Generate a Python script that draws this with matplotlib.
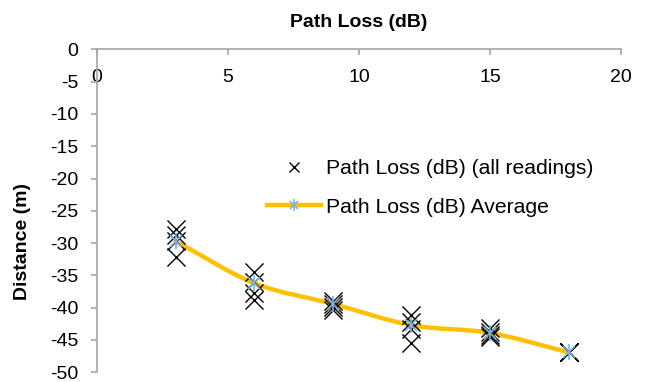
import matplotlib
matplotlib.use("Agg")
import matplotlib.pyplot as plt
from matplotlib.path import Path
from matplotlib.patches import PathPatch
from matplotlib.lines import Line2D
import numpy as np

plt.rcParams['font.family'] = ['Liberation Sans', 'DejaVu Sans']

# Measurement positions and readings
positions = [3, 6, 9, 12, 15, 18]
readings = [
    [-27.8, -28.7, -29.6, -32.1],
    [-34.4, -36.0, -37.8, -38.8],
    [-38.9, -39.4, -39.9, -40.3],
    [-41.2, -42.2, -43.3, -45.4],
    [-43.1, -43.7, -44.2, -44.6],
    [-46.9, -46.9, -46.9, -46.9],
]
average = [-29.7, -36.2, -39.4, -42.7, -43.9, -46.9]

x_ticks = [0, 5, 10, 15, 20]
y_ticks = [0, -5, -10, -15, -20, -25, -30, -35, -40, -45, -50]

gray = '#a6a6a6'
yellow = '#ffc000'
blue = '#7eb2e0'

W, H = 646, 382
fig = plt.figure(figsize=(W / 100, H / 100), dpi=100)
x0, x1, y0, y1 = 97, 621, 49.3, 372.3
ax = fig.add_axes([x0 / W, 1 - y1 / H, (x1 - x0) / W, (y1 - y0) / H])
ax.set_xlim(0, 20)
ax.set_ylim(-50, 0)

# all readings
xs = [p for p, r in zip(positions, readings) for _ in r]
ys = [v for r in readings for v in r]
ax.scatter(xs, ys, marker='x', s=13 ** 2, color='black', linewidths=1.0, zorder=3)

# smoothed average line (Catmull-Rom style Bezier segments)
pts = np.column_stack([positions, average]).astype(float)
n = len(pts)
tangents = []
for i in range(n):
    if i == 0:
        t = pts[1] - pts[0]
    elif i == n - 1:
        t = pts[-1] - pts[-2]
    else:
        t = (pts[i + 1] - pts[i - 1]) / 2
    tangents.append(t)
verts = [tuple(pts[0])]
codes = [Path.MOVETO]
for i in range(n - 1):
    c1 = pts[i] + tangents[i] / 3
    c2 = pts[i + 1] - tangents[i + 1] / 3
    verts += [tuple(c1), tuple(c2), tuple(pts[i + 1])]
    codes += [Path.CURVE4] * 3
ax.add_patch(PathPatch(Path(verts, codes), fill=False, edgecolor=yellow,
                       linewidth=3.2, capstyle='round', joinstyle='round', zorder=2))
ax.plot(positions, average, linestyle='none', marker='x', markersize=9,
        markeredgecolor=blue, markeredgewidth=1.2, zorder=4)
ax.plot(positions, average, linestyle='none', marker='|', markersize=12,
        markeredgecolor=blue, markeredgewidth=1.2, zorder=4)

# axes styling: x axis crosses at y = 0 (top)
for s in ['right', 'top']:
    ax.spines[s].set_visible(False)
ax.spines['bottom'].set_position(('data', 0))
for s in ['bottom', 'left']:
    ax.spines[s].set_color(gray)
    ax.spines[s].set_linewidth(1.2)
ax.set_xticks(x_ticks)
ax.set_yticks(y_ticks)
ax.set_xticklabels([str(v) for v in x_ticks])
ax.set_yticklabels([str(v) for v in y_ticks])
ax.tick_params(axis='both', direction='out', length=4.5, width=1.2, color=gray,
               labelsize=14, labelcolor='black')
ax.tick_params(axis='x', pad=10)
ax.tick_params(axis='y', pad=9)

ax.set_title('Path Loss (dB)', fontsize=14, fontweight='bold', pad=16)
ax.set_ylabel('Distance (m)', fontsize=14, fontweight='bold')
ax.yaxis.set_label_coords((31 - x0) / (x1 - x0), (y1 - 242) / (y1 - y0))

handles = [
    Line2D([], [], linestyle='none', marker='x', markersize=6.5, color='black',
           markeredgewidth=1.0),
    (Line2D([], [], color=yellow, linewidth=3.2),
     Line2D([], [], linestyle='none', marker='x', markersize=6,
            markeredgecolor=blue, markeredgewidth=1.2),
     Line2D([], [], linestyle='none', marker='|', markersize=8,
            markeredgecolor=blue, markeredgewidth=1.2)),
]
fig.legend(handles, ['Path Loss (dB) (all readings)', 'Path Loss (dB) Average'],
           loc='upper left', bbox_to_anchor=(267 / W, 1 - 159 / H), frameon=False,
           fontsize=15.2, handlelength=2.57, handletextpad=0.24, labelspacing=0.93,
           borderpad=0, borderaxespad=0)

fig.savefig('out.png', dpi=100)
